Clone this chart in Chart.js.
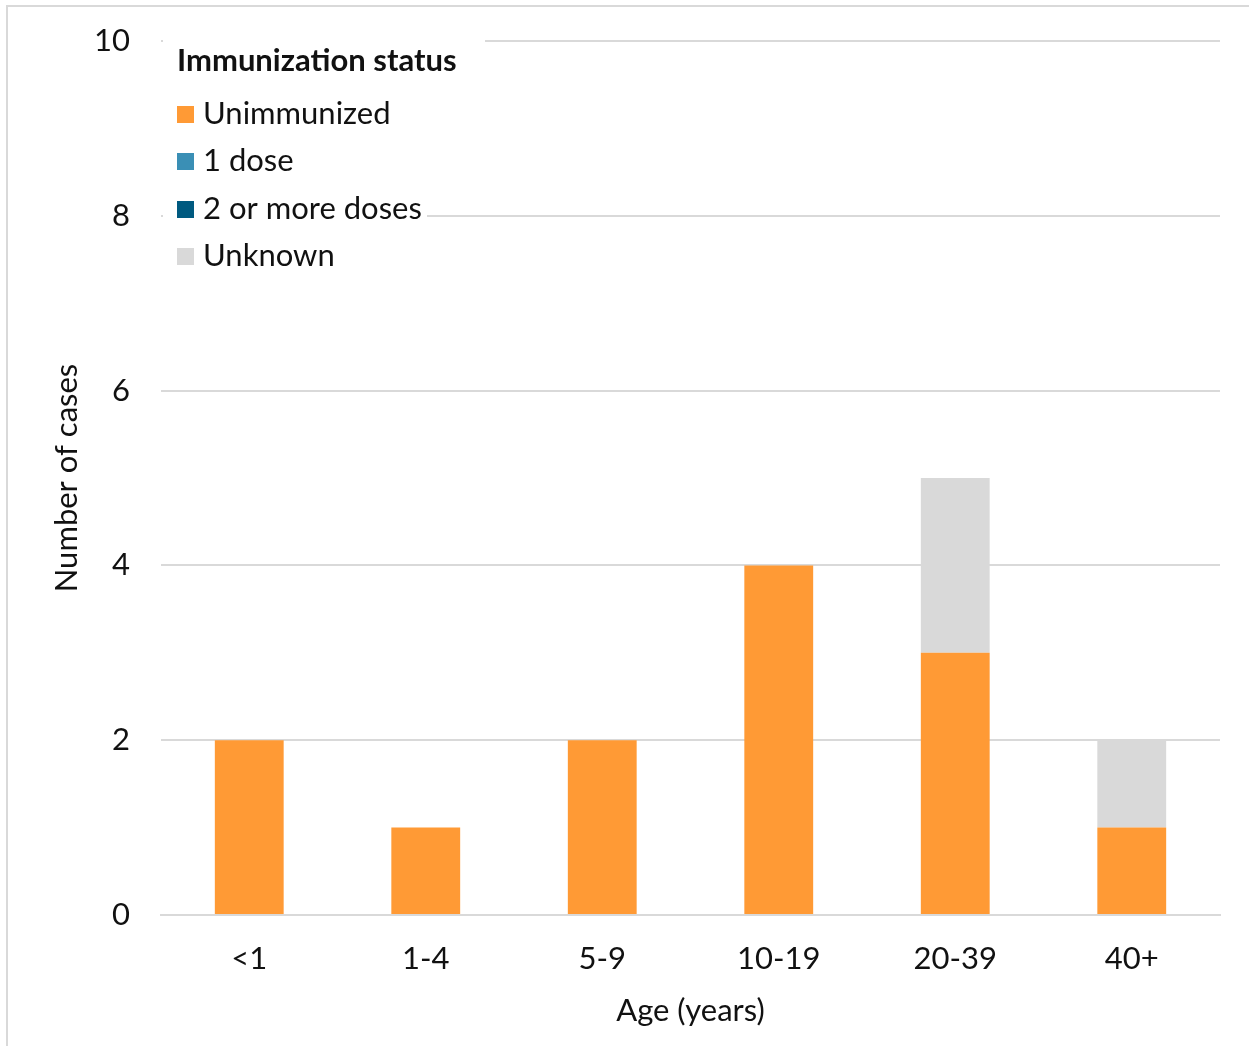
<!DOCTYPE html>
<html>
<head>
<meta charset="utf-8">
<script src="https://cdn.jsdelivr.net/npm/chart.js@4/dist/chart.umd.min.js"></script>
<style>
  html, body { margin: 0; padding: 0; background: #fff; }
  #wrap { position: relative; width: 1249px; height: 1046px; overflow: hidden; }
  #frame { position: absolute; left: 6px; top: 5px; width: 1300px; height: 1100px;
           border-left: 2px solid #d9d9d9; border-top: 2px solid #d9d9d9; pointer-events: none; }
  canvas { position: absolute; left: 0; top: 0; }
</style>
</head>
<body>
<div id="wrap">
  <canvas id="c" width="1249" height="1046"></canvas>
  <div id="frame"></div>
</div>
<script>
const categories = ['<1', '1-4', '5-9', '10-19', '20-39', '40+'];
const unimmunized = [2, 1, 2, 4, 3, 1];
const oneDose = [0, 0, 0, 0, 0, 0];
const twoPlusDoses = [0, 0, 0, 0, 0, 0];
const unknown = [0, 0, 0, 0, 2, 1];
const seriesNames = ['Unimmunized', '1 dose', '2 or more doses', 'Unknown'];
const seriesColors = ['#FF9A35', '#3A8FB5', '#005A80', '#D9D9D9'];
const legendTitle = 'Immunization status';
const yTicks = [0, 2, 4, 6, 8, 10];

const FONT = 'Lato, "Open Sans", sans-serif';
const FS = 31;

const legendPlugin = {
  id: 'insideLegend',
  afterDraw(chart) {
    const ctx = chart.ctx;
    ctx.save();
    ctx.fillStyle = '#ffffff';
    ctx.fillRect(163, 30, 322, 60);
    ctx.fillRect(163, 88, 264, 190);
    ctx.fillStyle = '#111';
    ctx.textBaseline = 'middle';
    ctx.textAlign = 'left';
    ctx.font = 'bold ' + FS + 'px ' + FONT;
    ctx.fillText(legendTitle, 177, 61);
    ctx.font = FS + 'px ' + FONT;
    const rows = [114, 161, 209, 256];
    chart.data.datasets.forEach((ds, i) => {
      ctx.fillStyle = ds.backgroundColor;
      ctx.fillRect(177, rows[i] - 8, 17, 17);
      ctx.fillStyle = '#111';
      ctx.fillText(ds.label, 203, rows[i]);
    });
    ctx.restore();
  }
};

const dataArrays = [unimmunized, oneDose, twoPlusDoses, unknown];

new Chart(document.getElementById('c'), {
  type: 'bar',
  data: {
    labels: categories,
    datasets: dataArrays.map((arr, i) => ({
      label: seriesNames[i],
      data: arr,
      backgroundColor: seriesColors[i],
      borderWidth: 0,
      categoryPercentage: 1,
      barPercentage: 0.39
    }))
  },
  options: {
    responsive: false,
    animation: false,
    layout: { padding: { left: 0, top: 41, right: 29, bottom: 0 } },
    plugins: { legend: { display: false }, tooltip: { enabled: false } },
    scales: {
      x: {
        stacked: true,
        grid: { display: false, drawTicks: false },
        border: { display: true, color: '#d9d9d9', width: 2 },
        ticks: { color: '#111', font: { family: FONT, size: FS }, padding: 25, maxRotation: 0 },
        title: { display: true, text: 'Age (years)', color: '#111',
                 font: { family: FONT, size: FS }, padding: { top: 0, bottom: 16 } },
        afterFit(scale) { scale.height = 131; scale.paddingLeft = 0; scale.paddingRight = 0; }
      },
      y: {
        stacked: true,
        min: 0, max: 10,
        afterBuildTicks(scale) { scale.ticks = yTicks.map(v => ({ value: v })); },
        grid: { color: '#d9d9d9', lineWidth: 2, drawTicks: false },
        border: { display: false },
        ticks: { color: '#111', font: { family: FONT, size: FS }, padding: 31 },
        title: { display: true, text: 'Number of cases', color: '#111',
                 font: { family: FONT, size: FS }, padding: { top: 48, bottom: 0 } },
        afterFit(scale) { scale.width = 161; scale.paddingTop = 0; scale.paddingBottom = 0; }
      }
    }
  },
  plugins: [legendPlugin]
});
</script>
</body>
</html>
